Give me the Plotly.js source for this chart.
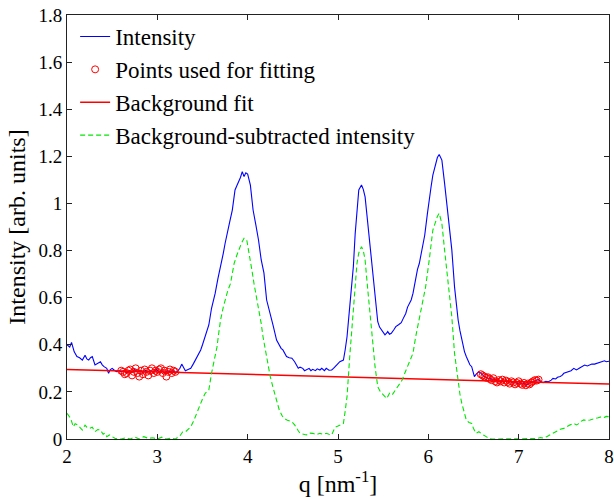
<!DOCTYPE html>
<html>
<head>
<meta charset="utf-8">
<script src="https://cdn.plot.ly/plotly-3.0.1.min.js"></script>
<style>html,body{margin:0;padding:0;background:#fff;}#chart{width:614px;height:500px;}</style>
</head>
<body>
<div id="chart"></div>
<script>
// Intensity (blue)
var intensityQ = [2.00,2.03,2.05,2.08,2.11,2.14,2.17,2.20,2.22,2.24,2.26,2.28,2.31,2.34,2.37,2.39,2.41,2.44,2.46,2.48,2.50,2.53,2.55,2.58,2.60,2.63,2.66,2.69,2.72,2.75,2.78,2.81,2.84,2.87,2.90,2.93,2.96,2.99,3.02,3.05,3.08,3.11,3.14,3.17,3.20,3.22,3.25,3.27,3.29,3.31,3.34,3.37,3.40,3.42,3.45,3.48,3.50,3.53,3.55,3.57,3.60,3.62,3.64,3.67,3.70,3.73,3.75,3.77,3.80,3.83,3.86,3.88,3.90,3.92,3.94,3.96,3.98,4.00,4.03,4.06,4.09,4.12,4.15,4.18,4.21,4.25,4.28,4.32,4.35,4.37,4.39,4.41,4.43,4.46,4.49,4.52,4.54,4.56,4.58,4.61,4.63,4.65,4.68,4.70,4.72,4.75,4.77,4.80,4.82,4.85,4.87,4.90,4.93,4.95,4.97,5.00,5.02,5.04,5.06,5.08,5.10,5.13,5.15,5.17,5.19,5.21,5.23,5.26,5.28,5.30,5.33,5.35,5.37,5.39,5.41,5.44,5.46,5.48,5.50,5.52,5.54,5.55,5.57,5.59,5.62,5.64,5.67,5.70,5.72,5.75,5.77,5.79,5.81,5.83,5.86,5.88,5.90,5.92,5.94,5.96,5.99,6.01,6.03,6.05,6.07,6.10,6.12,6.15,6.18,6.20,6.22,6.24,6.26,6.29,6.31,6.33,6.35,6.37,6.40,6.42,6.44,6.46,6.48,6.50,6.51,6.53,6.56,6.58,6.60,6.62,6.64,6.67,6.69,6.71,6.73,6.76,6.79,6.81,6.84,6.86,6.89,6.91,6.94,6.96,6.99,7.01,7.04,7.06,7.09,7.11,7.14,7.16,7.19,7.22,7.24,7.27,7.30,7.33,7.36,7.38,7.41,7.43,7.46,7.48,7.50,7.53,7.55,7.58,7.61,7.64,7.67,7.70,7.73,7.76,7.79,7.81,7.84,7.87,7.90,7.92,7.95,7.97,8.00];
var intensityI = [0.400,0.390,0.410,0.370,0.350,0.345,0.335,0.356,0.340,0.335,0.345,0.350,0.314,0.322,0.328,0.315,0.307,0.300,0.279,0.295,0.300,0.290,0.286,0.290,0.285,0.290,0.280,0.290,0.283,0.295,0.285,0.290,0.280,0.292,0.285,0.290,0.283,0.295,0.285,0.290,0.280,0.290,0.285,0.290,0.283,0.286,0.300,0.318,0.300,0.290,0.295,0.300,0.320,0.335,0.355,0.378,0.400,0.434,0.460,0.484,0.555,0.585,0.618,0.680,0.730,0.788,0.830,0.873,0.920,0.972,1.057,1.075,1.092,1.110,1.135,1.114,1.130,1.125,1.078,0.972,0.910,0.845,0.760,0.705,0.590,0.533,0.484,0.420,0.399,0.385,0.378,0.360,0.350,0.345,0.343,0.328,0.315,0.300,0.305,0.300,0.290,0.293,0.300,0.290,0.296,0.290,0.298,0.293,0.300,0.290,0.300,0.292,0.293,0.300,0.310,0.320,0.328,0.330,0.335,0.380,0.434,0.562,0.650,0.732,0.870,0.986,1.057,1.078,1.060,1.028,0.916,0.850,0.774,0.700,0.618,0.498,0.475,0.463,0.450,0.442,0.450,0.456,0.445,0.449,0.465,0.477,0.485,0.494,0.510,0.533,0.560,0.576,0.590,0.618,0.689,0.720,0.745,0.790,0.830,0.865,0.958,1.028,1.070,1.120,1.156,1.195,1.208,1.184,1.085,1.010,0.944,0.870,0.803,0.646,0.570,0.505,0.460,0.420,0.371,0.350,0.328,0.315,0.307,0.285,0.265,0.275,0.286,0.280,0.272,0.265,0.262,0.255,0.258,0.250,0.252,0.246,0.243,0.250,0.244,0.248,0.240,0.244,0.236,0.242,0.235,0.239,0.233,0.238,0.229,0.236,0.240,0.243,0.250,0.253,0.245,0.239,0.245,0.243,0.250,0.257,0.255,0.262,0.265,0.270,0.279,0.282,0.286,0.290,0.300,0.293,0.300,0.307,0.314,0.310,0.314,0.318,0.318,0.322,0.324,0.330,0.332,0.328,0.330];

// Points used for fitting (red circles)
var fitPointsQ = [2.60,2.62,2.64,2.66,2.68,2.70,2.72,2.74,2.76,2.78,2.80,2.82,2.84,2.86,2.88,2.90,2.92,2.94,2.96,2.98,3.00,3.02,3.04,3.06,3.08,3.10,3.12,3.14,3.16,3.18,3.20,
                  6.58,6.60,6.62,6.64,6.66,6.68,6.70,6.72,6.74,6.76,6.78,6.80,6.82,6.84,6.86,6.88,6.90,6.92,6.94,6.96,6.98,7.00,7.02,7.04,7.06,7.08,7.10,7.12,7.14,7.16,7.18,7.20,7.22];
var fitPointsI = [0.290,0.285,0.275,0.280,0.290,0.295,0.270,0.285,0.300,0.280,0.265,0.290,0.275,0.295,0.285,0.270,0.290,0.300,0.280,0.290,0.285,0.295,0.300,0.280,0.290,0.265,0.285,0.295,0.280,0.290,0.285,
                  0.275,0.270,0.265,0.260,0.262,0.255,0.250,0.258,0.245,0.240,0.250,0.245,0.252,0.240,0.248,0.242,0.235,0.245,0.240,0.232,0.238,0.245,0.235,0.230,0.238,0.228,0.235,0.232,0.240,0.245,0.250,0.248,0.252];

// Background fit (red line)
var bgFitQ = [2, 8];
var bgFitI = [0.295, 0.233];

// Background-subtracted intensity (green dashed)
var subQ = [2.00,2.02,2.04,2.07,2.09,2.12,2.15,2.17,2.20,2.22,2.25,2.28,2.31,2.34,2.37,2.40,2.42,2.44,2.47,2.50,2.53,2.56,2.60,2.65,2.70,2.75,2.80,2.85,2.90,2.95,3.00,3.05,3.10,3.15,3.20,3.25,3.28,3.31,3.34,3.37,3.40,3.42,3.45,3.48,3.50,3.53,3.57,3.60,3.63,3.66,3.68,3.70,3.73,3.75,3.78,3.81,3.83,3.85,3.88,3.90,3.93,3.96,3.99,4.01,4.03,4.05,4.07,4.10,4.12,4.15,4.17,4.19,4.21,4.25,4.28,4.30,4.33,4.35,4.38,4.40,4.44,4.49,4.52,4.54,4.56,4.58,4.62,4.65,4.68,4.72,4.76,4.80,4.84,4.87,4.90,4.93,4.95,4.97,5.00,5.02,5.06,5.08,5.10,5.13,5.15,5.17,5.19,5.21,5.23,5.26,5.28,5.30,5.33,5.35,5.37,5.39,5.41,5.44,5.47,5.50,5.54,5.57,5.60,5.63,5.66,5.71,5.74,5.77,5.80,5.83,5.86,5.89,5.91,5.94,5.97,6.01,6.03,6.05,6.07,6.10,6.12,6.15,6.18,6.20,6.22,6.26,6.29,6.31,6.33,6.35,6.37,6.40,6.42,6.45,6.48,6.50,6.53,6.56,6.59,6.61,6.64,6.67,6.70,6.80,6.90,7.00,7.10,7.20,7.24,7.28,7.31,7.35,7.38,7.42,7.46,7.50,7.53,7.57,7.61,7.64,7.66,7.69,7.72,7.75,7.79,7.82,7.84,7.88,7.92,7.95,7.97,8.00];
var subI = [0.109,0.100,0.088,0.052,0.065,0.059,0.045,0.038,0.059,0.050,0.045,0.050,0.031,0.040,0.038,0.020,0.025,0.010,0.017,0.008,0.003,0.000,0.000,0.005,0.000,0.008,0.000,0.010,0.003,0.005,0.000,0.008,0.000,0.003,0.000,0.013,0.030,0.030,0.040,0.052,0.075,0.095,0.120,0.152,0.170,0.194,0.208,0.279,0.340,0.390,0.450,0.505,0.560,0.590,0.630,0.660,0.700,0.745,0.780,0.802,0.830,0.852,0.845,0.800,0.760,0.710,0.660,0.600,0.562,0.490,0.434,0.390,0.350,0.265,0.220,0.194,0.150,0.123,0.100,0.088,0.080,0.073,0.060,0.045,0.035,0.024,0.020,0.017,0.025,0.024,0.018,0.024,0.020,0.024,0.020,0.017,0.035,0.050,0.055,0.059,0.066,0.120,0.180,0.350,0.460,0.562,0.660,0.745,0.790,0.816,0.800,0.760,0.632,0.560,0.477,0.390,0.307,0.222,0.200,0.187,0.172,0.194,0.187,0.205,0.222,0.250,0.280,0.307,0.335,0.364,0.434,0.490,0.533,0.590,0.646,0.760,0.820,0.887,0.910,0.945,0.958,0.915,0.802,0.730,0.660,0.519,0.364,0.300,0.236,0.190,0.152,0.110,0.081,0.070,0.066,0.045,0.024,0.031,0.020,0.017,0.010,0.003,0.000,0.000,0.000,0.000,0.000,0.002,0.006,0.004,0.010,0.018,0.024,0.030,0.041,0.045,0.052,0.060,0.066,0.060,0.064,0.075,0.081,0.078,0.081,0.085,0.088,0.090,0.095,0.092,0.096,0.095];

var xTickVals = [2,3,4,5,6,7,8];
var yTickVals = [0,0.2,0.4,0.6,0.8,1,1.2,1.4,1.6,1.8];
var yTickText = ['0','0.2','0.4','0.6','0.8','1','1.2','1.4','1.6','1.8'];

var serif = 'Liberation Serif';

var traces = [
  {x: intensityQ, y: intensityI, type: 'scatter', mode: 'lines', name: 'Intensity',
   line: {color: '#0000ff', width: 1.1}},
  {x: fitPointsQ, y: fitPointsI, type: 'scatter', mode: 'markers', name: 'Points used for fitting',
   marker: {symbol: 'circle-open', color: '#ff0000', size: 7, line: {color: '#ff0000', width: 1}}},
  {x: bgFitQ, y: bgFitI, type: 'scatter', mode: 'lines', name: 'Background fit',
   line: {color: '#ff0000', width: 1.5}},
  {x: subQ, y: subI, type: 'scatter', mode: 'lines', name: 'Background-subtracted intensity',
   line: {color: '#00e600', width: 1.1, dash: '5px,3px'}}
];

var axisCommon = {
  showline: true, linecolor: '#222', linewidth: 1, mirror: 'ticks',
  ticks: 'inside', ticklen: 5, tickwidth: 1, tickcolor: '#222',
  showgrid: false, zeroline: false,
  tickfont: {family: serif, size: 19, color: '#000'}
};

var layout = {
  width: 614, height: 500,
  margin: {l: 67, r: 5, t: 15, b: 61},
  paper_bgcolor: '#fff', plot_bgcolor: '#fff',
  font: {family: serif, color: '#000'},
  showlegend: true,
  legend: {x: 0.015, y: 1.0, xanchor: 'left', yanchor: 'top', bgcolor: 'rgba(0,0,0,0)',
           font: {family: serif, size: 23, color: '#000'}, tracegroupgap: 0, itemwidth: 30},
  xaxis: Object.assign({}, axisCommon, {
    range: [2, 8], tickmode: 'array', tickvals: xTickVals,
    title: {text: 'q [nm<sup>-1</sup>]', font: {family: serif, size: 24, color: '#000'}, standoff: 6}
  }),
  yaxis: Object.assign({}, axisCommon, {
    range: [0, 1.8], tickmode: 'array', tickvals: yTickVals, ticktext: yTickText,
    title: {text: 'Intensity [arb. units]', font: {family: serif, size: 24, color: '#000'}, standoff: 6}
  })
};

Plotly.newPlot('chart', traces, layout, {staticPlot: true, displayModeBar: false});
</script>
</body>
</html>
